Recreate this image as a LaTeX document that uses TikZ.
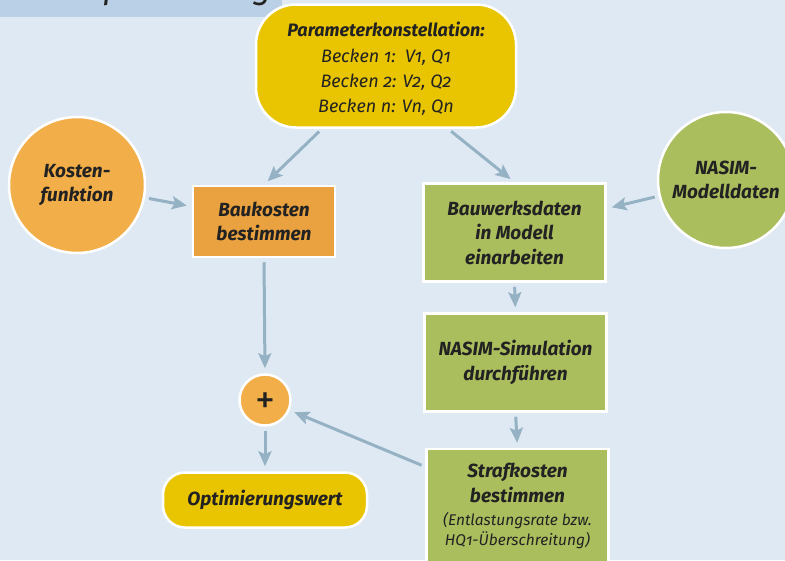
\documentclass[tikz,border=0pt]{standalone}
\usepackage{fontspec}
\setmainfont{Fira Sans}[Numbers=OldStyle]
\usetikzlibrary{arrows.meta}
\definecolor{bgc}{HTML}{DFE9F3}
\definecolor{headc}{HTML}{B9D0E6}
\definecolor{yellowc}{HTML}{E9C400}
\definecolor{orangec}{HTML}{F2AE48}
\definecolor{orangeb}{HTML}{E9A23F}
\definecolor{greenc}{HTML}{ABBE5E}
\definecolor{arrc}{HTML}{94B2C4}
\definecolor{txtc}{HTML}{222222}
\tikzset{
  base/.style={draw=white, line width=2.5pt, text=txtc, align=center, inner sep=0pt,
    font=\fontsize{19}{24.5}\selectfont\bfseries\itshape},
  boxo/.style={base, fill=orangeb, minimum width=142pt, minimum height=71pt},
  boxg/.style={base, fill=greenc, minimum width=182pt, minimum height=98pt},
  circo/.style={base, circle, fill=orangec, minimum size=136pt},
  circg/.style={base, circle, fill=greenc, minimum size=136pt},
  arr/.style={draw=arrc, line width=3pt, shorten <=4pt, shorten >=5pt,
    -{Stealth[length=15pt, width=13pt, inset=3pt]}},
}
\begin{document}
\begin{tikzpicture}[x=1pt, y=-1pt]
\fill[bgc] (0,0) rectangle (785,560);
\useasboundingbox (0,0) rectangle (785,560);
\clip (0,0) rectangle (785,560);
% header band with clipped title
\fill[headc] (0,0) rectangle (282,17);
\begin{scope}
\clip (0,0) rectangle (282,17);
\node[anchor=base west, inner sep=0pt, text=txtc, font=\fontsize{34}{34}\selectfont\itshape] (title) at (80,-2) {Optimierung};
\end{scope}
% nodes
\node[base, fill=yellowc, rounded corners=40pt, minimum width=260pt, minimum height=123pt] (param) at (386,66) {};
\node[align=center, inner sep=0pt, text=txtc, font=\fontsize{18}{25.2}\selectfont\itshape] (paramtxt) at (386,69)
  {\textbf{Parameterkonstellation:}\\Becken 1:\ \ V1, Q1\\Becken 2: V2, Q2\\Becken n: Vn, Qn};
\node[circo] (kf) at (77,185) {Kosten-\\funktion};
\node[boxo] (bk) at (264,221.5) {Baukosten\\bestimmen};
\node[boxg] (bw) at (514.5,232.5) {Bauwerksdaten\\in Modell\\einarbeiten};
\node[circg] (nm) at (726,180) {NASIM-\\Modelldaten};
\node[boxg] (ns) at (515.5,362.5) {NASIM-Simulation\\durchführen};
\node[boxg, minimum height=114pt] (sk) at (517.5,506)
  {Strafkosten\\bestimmen\\[-1pt]\fontsize{15.5}{19}\selectfont\mdseries\itshape (Entlastungsrate bzw.\\[-5pt]\fontsize{15.5}{19}\selectfont\mdseries\itshape HQ1-Überschreitung)};
\node[base, circle, fill=orangec, minimum size=51pt] (plus) at (265,400) {};
\node[inner sep=0pt, text=txtc, font=\fontsize{40}{40}\selectfont\mdseries] (plustxt) at ([yshift=-3pt]plus.center) {+};
\node[base, fill=yellowc, rounded corners=22pt, minimum width=204pt, minimum height=55pt] (opt) at (265,500) {Optimierungswert};
% connectors
\draw[arr] ([xshift=-64pt]param.south) -- (bk.north);
\draw[arr] ([xshift=62pt]param.south) -- (bw.north);
\draw[arr] (kf) -- ([yshift=15pt]bk.west);
\draw[arr] (nm) -- ([yshift=24pt]bw.east);
\draw[arr] (bk.south) -- (plus.north);
\draw[arr] (bw.south) -- (ns.north);
\draw[arr] (ns.south) -- (sk.north);
\draw[arr] (plus.south) -- (opt.north);
\draw[arr] ([yshift=-19pt]sk.north west) -- (plus);
\end{tikzpicture}
\end{document}
